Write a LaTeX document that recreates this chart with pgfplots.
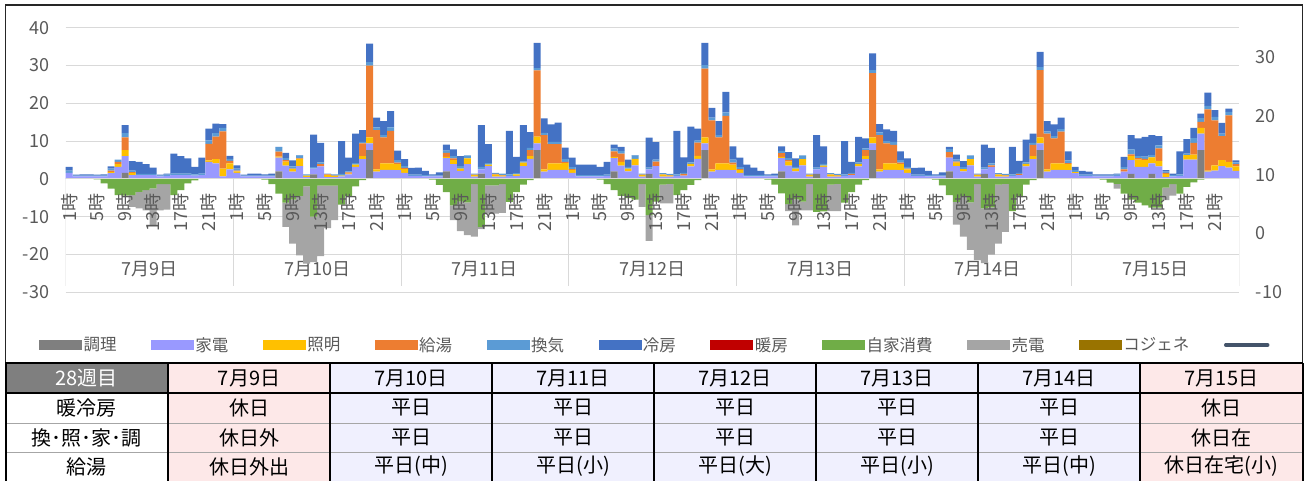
\documentclass[border=0pt]{standalone}
\usepackage{pgfplots}
\pgfplotsset{compat=1.18}
\usepackage{pgfplotstable}
\usepackage{fontspec}
\setmainfont{Noto Sans CJK JP}
\definecolor{cCook}{HTML}{7F7F7F}
\definecolor{cApp}{HTML}{9999FF}
\definecolor{cLight}{HTML}{FFC000}
\definecolor{cHw}{HTML}{ED7D31}
\definecolor{cVent}{HTML}{5B9BD5}
\definecolor{cCool}{HTML}{4472C4}
\definecolor{cHeat}{HTML}{C00000}
\definecolor{cSelf}{HTML}{70AD47}
\definecolor{cSell}{HTML}{A5A5A5}
\definecolor{cCogen}{HTML}{997300}
\definecolor{cLine}{HTML}{44546A}
\definecolor{gridc}{HTML}{D9D9D9}
\definecolor{labc}{HTML}{595959}
\definecolor{pinkc}{HTML}{FDE8E8}
\definecolor{lavc}{HTML}{F0F0FE}
\definecolor{hdrc}{HTML}{7F7F7F}
\definecolor{rowline}{HTML}{A6A6A6}
\newcommand{\fs}[1]{\fontsize{#1}{#1}\selectfont}

\pgfplotstableread{
x cook app light hw vent cool self sell
1 0 1.6 0 0 0.6 1.0 0 0
2 0 0.7 0 0 0.2 0.2 0 0
3 0 0.7 0 0 0.2 0.3 0 0
4 0 0.7 0 0 0.2 0.3 0 0
5 0 0.7 0 0 0.2 0.2 -0.1 0
6 0 0.7 0 0 0.2 0.3 -1.2 0
7 0 1.5 0.3 0.4 0.5 0.6 -2.6 0
8 0 3.2 0.7 0.6 0.6 0 -4.3 0
9 1.6 4.4 1.6 3.4 1.1 2.1 -4.4 0
10 0 1.0 0.6 0.2 0.4 2.5 -4.3 -3.1
11 0 1.0 0 0 0.3 3.2 -3.4 -4.4
12 0 1.0 0 0 0.3 2.6 -3.0 -5.3
13 0 1.0 0 0 0.3 1.7 -2.5 -9.7
14 0 0.7 0 0 0.2 0.2 -1.4 -6.9
15 0 0.8 0 0 0.3 0.3 -1.4 -6.7
16 0 1.0 0 0 0.4 5.3 -4.3 0
17 0 1.0 0 0 0.4 4.6 -3.0 0
18 0 1.0 0 0 0.4 4.0 -1.2 0
19 0 0.9 0 0 0.3 2.0 -0.4 0
20 0 1.0 0 0 0.4 4.2 0 0
21 0 4.5 0.4 4.4 0.9 3.1 0 0
22 0 4.1 1.1 6.0 0.9 2.5 0 0
23 0 0.7 2.0 9.9 0.9 1.0 0 0
24 0 2.5 1.6 0.7 0.5 0.8 0 0
25 0 1.6 0.4 0.2 0.5 0.9 0 0
26 0 0.7 0 0 0.2 0.2 0 0
27 0 0.7 0 0 0.2 0.5 0 0
28 0 0.7 0 0 0.2 0.5 0 0
29 0 0.7 0 0 0.2 0.3 -0.2 0
30 0 0.7 0 0 0.2 0.5 -1.4 0
31 2.0 3.6 0.3 1.3 1.2 0.1 -3.9 0
32 0 3.5 1.1 0.4 0.5 1.4 -6.3 -6.4
33 0 1.9 0.7 0.1 0.6 1.6 -5.5 -11.6
34 0 3.4 1.9 0.1 0.8 0.1 -4.5 -15.7
35 0 0.5 0.4 0 0.3 0 -2.0 -20.4
36 1.2 1.5 0 0 0.4 8.6 -10.0 -12.0
37 0 3.3 0 0.6 0.5 5.1 -1.8 -18.6
38 0 0.5 0.5 0.2 0.2 0 -1.8 -11.2
39 0 0.5 0.3 0.1 0.3 0 -1.8 -9.1
40 0 0.7 0.2 0 0.4 8.7 -6.8 0
41 0 1.2 0.2 0.3 0.3 3.6 -4.5 0
42 0 3.2 0.6 0 0.4 7.8 -2.0 0
43 0 5.2 0.8 3.4 0.4 3.1 -0.3 0
44 7.6 1.8 1.6 19.0 0.9 4.9 0 0
45 0 1.9 0.6 10.4 0.7 2.6 0 0
46 0 2.4 1.7 6.9 0.6 3.7 0 0
47 0 2.4 1.7 8.6 0.9 4.3 0 0
48 0 2.3 1.6 0.4 0.7 2.5 0 0
49 0 1.6 1.0 0.3 0.5 1.8 0 0
50 0 0.8 0 0 0.3 1.8 0 0
51 0 0.8 0 0 0.3 1.9 0 0
52 0 0.7 0 0 0.3 1.1 0 0
53 0 0.7 0 0 0.2 0.3 -0.2 0
54 0 0.7 0 0 0.2 0.8 -1.6 0
55 2.0 3.5 0.3 1.1 0.6 1.6 -3.5 0
56 0 3.9 1.1 0.4 0.6 1.8 -7.0 -3.9
57 0 2.1 0.6 0 0.7 2.6 -6.0 -7.8
58 0 3.9 1.5 0 0.8 0 -6.2 -8.7
59 0 0.6 0.4 0.1 0.3 0 -1.4 -13.9
60 1.4 1.1 0 0 0.7 11.0 -12.7 -0.6
61 0 3.4 0.4 0 0.4 5.0 -1.7 -7.5
62 0 0.6 0.5 0.2 0.3 0 -1.7 -7.5
63 0 0.6 0.3 0.1 0.4 0 -1.4 -7.6
64 0 0.8 0 0 0.4 11.5 -6.1 0
65 0 0.8 0.4 0 0.3 4.3 -3.5 0
66 0 3.4 0.9 0 0.3 9.6 -1.5 0
67 0 5.3 0.7 1.6 0.6 4.2 -0.3 0
68 7.6 1.8 1.8 17.5 0.6 6.7 0 0
69 0 1.9 0.6 9.1 0.6 3.8 0 0
70 0 2.4 1.7 5.1 0.6 4.6 0 0
71 0 2.4 1.7 5.1 0.6 5.1 0 0
72 0 2.4 1.8 0.3 0.7 3.1 0 0
73 0 1.6 0.8 0.2 0.5 2.5 0 0
74 0 0.7 0 0 0.3 2.8 0 0
75 0 0.7 0 0 0.3 2.8 0 0
76 0 0.7 0 0 0.3 2.8 0 0
77 0 0.7 0 0 0.3 2.2 -0.2 0
78 0 0.8 0 0 0.3 3.4 -1.4 0
79 2.0 3.5 0.3 1.5 0.7 1.1 -3.0 0
80 0 3.5 1.0 2.2 0.7 1.1 -4.5 0
81 0 2.0 0.7 0 0.5 1.9 -5.1 0
82 0 3.6 1.7 0 0.9 0.1 -5.5 0
83 0 0.6 0.4 0.1 0.3 0 -1.4 -6.0
84 1.3 1.2 0 0 0.5 7.9 -9.6 -6.8
85 0 3.4 0 1.2 0.5 4.6 -6.0 0
86 0 0.6 0.5 0.1 0.3 0 -1.5 -5.0
87 0 0.6 0.3 0.1 0.3 0 -1.3 -5.2
88 0 0.8 0 0 0.4 11.5 -4.3 0
89 0 0.9 0 0.4 0.3 4.1 -3.0 0
90 0 3.3 0.7 0 0.4 9.4 -1.6 0
91 0 5.3 0.8 3.5 0.5 3.2 -0.3 0
92 7.6 1.8 1.6 18.2 0.9 5.9 0 0
93 0 1.9 0.6 13.0 0.7 2.6 0 0
94 0 2.4 1.7 6.9 0.6 3.7 0 0
95 0 2.4 1.7 12.6 0.9 5.4 0 0
96 0 2.3 1.5 0.5 0.8 3.5 0 0
97 0 1.6 0.8 0.2 0.5 2.5 0 0
98 0 0.7 0 0 0.3 2.8 0 0
99 0 0.7 0 0 0.3 2.0 0 0
100 0 0.7 0 0 0.3 1.1 0 0
101 0 0.7 0 0 0.2 0.3 -0.2 0
102 0 0.7 0 0 0.2 0.5 -1.5 0
103 2.0 3.5 0.3 1.0 0.6 1.2 -3.8 0
104 0 3.5 1.1 0.4 0.5 1.6 -6.7 -1.8
105 0 2.0 0.7 0 0.5 2.2 -5.4 -6.9
106 0 3.6 1.6 0 1.0 0 -6.0 -2.3
107 0 0.6 0.4 0.1 0.3 0 -1.4 -6.9
108 1.3 1.2 0 0 0.5 8.6 -8.7 0
109 0 3.2 0.3 0 0.5 4.6 -8.6 0
110 0 0.6 0.5 0.1 0.3 0 -1.5 -7.0
111 0 0.6 0.3 0.1 0.3 0 -1.3 -7.2
112 0 0.8 0 0 0.4 8.8 -6.3 0
113 0 1.0 0 0.3 0.3 2.9 -3.5 0
114 0 3.3 0.7 0 0.4 6.7 -1.5 0
115 0 5.2 0.8 1.6 0.5 2.6 -0.3 0
116 7.6 1.8 1.6 17.0 0.8 4.4 0 0
117 0 1.9 0.6 9.1 0.7 2.2 0 0
118 0 2.4 1.7 5.3 0.6 3.1 0 0
119 0 2.4 1.7 4.9 0.8 2.9 0 0
120 0 2.3 1.6 0.4 0.7 2.3 0 0
121 0 1.6 0.9 0.2 0.5 2.2 0 0
122 0 0.8 0 0 0.3 1.8 0 0
123 0 0.8 0 0 0.3 1.9 0 0
124 0 0.7 0 0 0.3 1.1 0 0
125 0 0.7 0 0 0.2 0.3 -0.2 0
126 0 0.7 0 0 0.2 0.8 -1.7 0
127 2.0 3.6 0 1.5 0.8 0.6 -4.3 0
128 0 3.4 0.9 0.3 0.5 1.3 -6.1 -6.0
129 0 2.0 0.6 0 0.5 1.6 -4.7 -10.6
130 0 3.6 1.6 0 1.0 0 -6.2 -12.6
131 0 0.6 0.4 0.1 0.3 0 -1.4 -20.1
132 1.3 1.2 0 0 0.5 6.1 -7.8 -14.5
133 0 3.2 0 0.4 0.5 4.1 -7.5 -12.5
134 0 0.6 0.5 0.1 0.3 0 -1.5 -15.6
135 0 0.6 0.3 0.1 0.3 0 -1.3 -12.7
136 0 0.8 0 0 0.4 7.3 -8.5 0
137 0 1.0 0 0.3 0.3 3.2 -4.8 0
138 0 3.3 0.7 0 0.4 6.0 -1.5 0
139 0 5.2 0.8 3.0 0.5 2.5 -0.3 0
140 7.6 1.8 1.6 17.8 0.8 4.0 0 0
141 0 1.9 0.6 9.5 0.6 2.7 0 0
142 0 2.4 1.7 6.6 0.6 3.1 0 0
143 0 2.4 1.7 8.4 0.7 3.0 0 0
144 0 2.3 1.6 0.3 0.7 2.4 0 0
145 0 1.5 0.3 0 0.5 0.9 0 0
146 0 0.8 0 0 0.3 1.0 0 0
147 0 0.8 0 0 0.3 0.8 0 0
148 0 0.7 0 0 0.2 0.3 0 0
149 0 0.7 0 0 0.2 0.3 -0.2 0
150 0 0.7 0 0 0.2 0.3 -1.0 0
151 0 0.8 0 0 0.3 0.3 -1.3 -1.3
152 0 1.9 0 0.6 0.6 2.7 -3.9 0
153 1.3 3.7 1.1 0.4 1.3 3.8 -5.5 0
154 0 3.2 1.9 0.4 0.5 4.7 -6.3 0
155 0 3.2 1.8 0.3 0.6 5.2 -7.0 0
156 1.3 2.8 1.6 0 0.6 5.3 -7.6 0
157 0 3.3 1.5 3.3 0.8 2.4 -7.6 0
158 0 0.5 0.8 0.3 0.3 0.4 -2.3 -3.3
159 0 0.7 0 0 0.3 0.4 -1.4 -3.0
160 0 0.8 0 0 0.4 6.1 -3.9 0
161 0 5.1 1.2 0 0.4 3.8 -2.1 0
162 0 5.1 1.3 3.1 1.3 2.7 -0.9 0
163 7.6 4.4 1.5 1.6 1.0 1.2 -0.2 0
164 0 1.9 0.3 16.2 0.9 3.5 0 0
165 0 2.2 1.4 11.9 0.9 1.8 0 0
166 0 3.4 1.6 6.3 0.7 2.8 0 0
167 0 3.0 1.5 12.3 0.9 0.9 0 0
168 0 2.1 1.2 0.6 0.5 0.5 0 0
}\data

\pgfplotsset{
  base/.style={scale only axis, width=1173.6bp, height=264.6bp,
    at={(65.7bp,-292.3bp)}, anchor=south west,
    xmin=0.5, xmax=168.5, enlargelimits=false,
    /pgf/number format/assume math mode=true},
  swatch/.style={legend image code/.code={\fill[#1] (0bp,-4.5bp) rectangle (42bp,4.5bp);}},
}

\begin{document}
\begin{tikzpicture}
\path[use as bounding box] (0,0) rectangle (1306bp,-481bp);

% ---------- main axis: grid, left ticks, consumption ----------
\begin{axis}[base, ymin=-30, ymax=40, ytick={-30,-20,...,40}, xtick=\empty,
  ymajorgrids, grid style={draw=gridc, line width=0.9bp},
  axis line style={draw=none}, major tick length=0pt,
  yticklabel style={font=\fs{18bp}, text=labc, xshift=-13bp},
  ybar stacked, bar width=1]
\addplot[fill=cCook, draw=none] table[x=x,y=cook]{\data};
\addplot[fill=cApp, draw=none] table[x=x,y=app]{\data};
\addplot[fill=cLight, draw=none] table[x=x,y=light]{\data};
\addplot[fill=cHw, draw=none] table[x=x,y=hw]{\data};
\addplot[fill=cVent, draw=none] table[x=x,y=vent]{\data};
\addplot[fill=cCool, draw=none] table[x=x,y=cool]{\data};
\end{axis}

% ---------- PV axis: self consumption and sold ----------
\begin{axis}[base, ymin=-30, ymax=40, axis on top,
  axis x line=middle, x axis line style={draw=gridc, line width=0.9bp, -},
  axis y line=none, ytick=\empty, major tick length=0pt,
  xtick={1,5,9,13,17,21,25,29,33,37,41,45,49,53,57,61,65,69,73,77,81,85,89,93,97,101,105,109,113,117,121,125,129,133,137,141,145,149,153,157,161,165},
  xticklabels={1時,5時,9時,13時,17時,21時,1時,5時,9時,13時,17時,21時,1時,5時,9時,13時,17時,21時,1時,5時,9時,13時,17時,21時,1時,5時,9時,13時,17時,21時,1時,5時,9時,13時,17時,21時,1時,5時,9時,13時,17時,21時},
  xticklabel style={font=\fs{18bp}, text=labc, yshift=-11bp, rotate=90, anchor=east},
  ybar stacked, bar width=1]
\addplot[fill=cSelf, draw=none] table[x=x,y=self]{\data};
\addplot[fill=cSell, draw=none] table[x=x,y=sell]{\data};
\draw[gridc, line width=0.9bp] (axis cs:0.5,0) -- (axis cs:0.5,-28.4);
\draw[gridc, line width=0.9bp] (axis cs:24.5,0) -- (axis cs:24.5,-28.4);
\draw[gridc, line width=0.9bp] (axis cs:48.5,0) -- (axis cs:48.5,-28.4);
\draw[gridc, line width=0.9bp] (axis cs:72.5,0) -- (axis cs:72.5,-28.4);
\draw[gridc, line width=0.9bp] (axis cs:96.5,0) -- (axis cs:96.5,-28.4);
\draw[gridc, line width=0.9bp] (axis cs:120.5,0) -- (axis cs:120.5,-28.4);
\draw[gridc, line width=0.9bp] (axis cs:144.5,0) -- (axis cs:144.5,-28.4);
\draw[gridc, line width=0.9bp] (axis cs:168.5,0) -- (axis cs:168.5,-28.4);
\node[font=\fs{18bp}, text=labc] at (axis cs:12.5,-23.9) {7月9日};
\node[font=\fs{18bp}, text=labc] at (axis cs:36.5,-23.9) {7月10日};
\node[font=\fs{18bp}, text=labc] at (axis cs:60.5,-23.9) {7月11日};
\node[font=\fs{18bp}, text=labc] at (axis cs:84.5,-23.9) {7月12日};
\node[font=\fs{18bp}, text=labc] at (axis cs:108.5,-23.9) {7月13日};
\node[font=\fs{18bp}, text=labc] at (axis cs:132.5,-23.9) {7月14日};
\node[font=\fs{18bp}, text=labc] at (axis cs:156.5,-23.9) {7月15日};
\end{axis}

% ---------- secondary axis + legend ----------
\begin{axis}[base, ymin=-10, ymax=35, ytick={-10,0,...,30},
  axis y line*=right, axis x line=none, axis line style={draw=none},
  major tick length=0pt,
  yticklabel style={font=\fs{18bp}, text=labc, xshift=13bp},
  legend columns=11,
  legend style={at={(axis description cs:-0.0228,-0.1992)}, anchor=west,
    draw=none, fill=none, inner sep=0pt, font=\fs{16.5bp}, text=labc,
    /tikz/every even column/.append style={column sep=32.5bp}}]
\addplot[draw=none, forget plot] coordinates {(1,0)};
\addlegendimage{swatch=cCook}\addlegendentry{調理}
\addlegendimage{swatch=cApp}\addlegendentry{家電}
\addlegendimage{swatch=cLight}\addlegendentry{照明}
\addlegendimage{swatch=cHw}\addlegendentry{給湯}
\addlegendimage{swatch=cVent}\addlegendentry{換気}
\addlegendimage{swatch=cCool}\addlegendentry{冷房}
\addlegendimage{swatch=cHeat}\addlegendentry{暖房}
\addlegendimage{swatch=cSelf}\addlegendentry{自家消費}
\addlegendimage{swatch=cSell}\addlegendentry{売電}
\addlegendimage{swatch=cCogen}\addlegendentry{コジェネ}
\addlegendimage{legend image code/.code={\draw[cLine, line width=3.5bp, line cap=round] (2bp,0bp) -- (44bp,0bp);}}\addlegendentry{}
\end{axis}

% ---------- chart frame ----------
\draw[line width=1.8bp, black!85] (5.5bp,-5bp) rectangle (1302.5bp,-363bp);

% ---------- table ----------
\node[fill=hdrc, inner sep=0pt, minimum width=163bp, minimum height=30bp, anchor=north west] at (5bp,-363bp) {};
\node[fill=pinkc, inner sep=0pt, minimum width=162bp, minimum height=118bp, anchor=north west] at (168bp,-363bp) {};
\node[fill=lavc, inner sep=0pt, minimum width=810bp, minimum height=118bp, anchor=north west] at (330bp,-363bp) {};
\node[fill=pinkc, inner sep=0pt, minimum width=163bp, minimum height=118bp, anchor=north west] at (1140bp,-363bp) {};

\draw[rowline, line width=1bp] (5bp,-423bp) -- (1303bp,-423bp);
\draw[rowline, line width=1bp] (5bp,-452bp) -- (1303bp,-452bp);
\draw[black, line width=2bp] (5bp,-363bp) -- (1303bp,-363bp);
\draw[black, line width=2bp] (5bp,-393bp) -- (1303bp,-393bp);
\foreach \xx in {5.5,168,330,492,654,816,978,1140,1302.5}{
  \draw[black, line width=2bp] (\xx bp,-363bp) -- (\xx bp,-481bp);
}

\begin{scope}[every node/.style={font=\fs{20bp}, text=black, anchor=center, inner sep=0pt}]
\node[text=white] at (86.5bp,-378bp) {28週目};
\node at (249bp,-378bp) {7月9日};
\node at (411bp,-378bp) {7月10日};
\node at (573bp,-378bp) {7月11日};
\node at (735bp,-378bp) {7月12日};
\node at (897bp,-378bp) {7月13日};
\node at (1059bp,-378bp) {7月14日};
\node at (1221.5bp,-378bp) {7月15日};

\node at (86.5bp,-408bp) {暖冷房};
\node at (249bp,-408bp) {休日};
\node at (411bp,-408bp) {平日};
\node at (573bp,-408bp) {平日};
\node at (735bp,-408bp) {平日};
\node at (897bp,-408bp) {平日};
\node at (1059bp,-408bp) {平日};
\node at (1221.5bp,-408bp) {休日};

\node at (86.5bp,-437.5bp) {換･照･家･調};
\node at (249bp,-437.5bp) {休日外};
\node at (411bp,-437.5bp) {平日};
\node at (573bp,-437.5bp) {平日};
\node at (735bp,-437.5bp) {平日};
\node at (897bp,-437.5bp) {平日};
\node at (1059bp,-437.5bp) {平日};
\node at (1221.5bp,-437.5bp) {休日在};

\node at (86.5bp,-466.5bp) {給湯};
\node at (249bp,-466.5bp) {休日外出};
\node at (411bp,-466.5bp) {平日(中)};
\node at (573bp,-466.5bp) {平日(小)};
\node at (735bp,-466.5bp) {平日(大)};
\node at (897bp,-466.5bp) {平日(小)};
\node at (1059bp,-466.5bp) {平日(中)};
\node at (1221.5bp,-466.5bp) {休日在宅(小)};
\end{scope}
\end{tikzpicture}
\end{document}
